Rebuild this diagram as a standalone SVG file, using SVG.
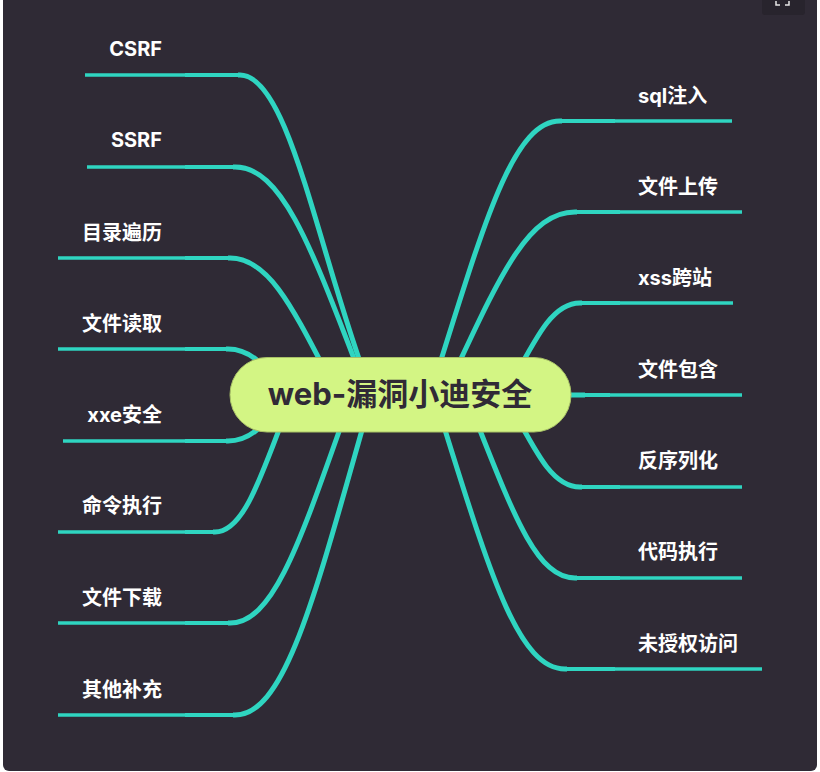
<svg xmlns="http://www.w3.org/2000/svg" width="820" height="772" viewBox="0 0 820 772">
<defs>
<style>
.bg{fill:#2f2a35}
.br{fill:none;stroke:#2fd5c1;stroke-width:5;stroke-linecap:butt}
.md{fill:none;stroke:#2fd5c1;stroke-width:4;stroke-linecap:butt}
.hz{fill:none;stroke:#2fd5c1;stroke-width:3.4;stroke-linecap:butt}
.lbl{font-family:Inter,"Noto Sans CJK SC",sans-serif;font-weight:700;font-size:20px;fill:#ffffff}
.l{text-anchor:end}
.root{fill:#d3f584;stroke:#a8c167;stroke-width:1}
.rt{font-family:Inter,"Noto Sans CJK SC",sans-serif;font-weight:700;font-size:31px;fill:#302a36;text-anchor:middle}
</style>
</defs>
<rect x="0" y="0" width="820" height="772" fill="#ffffff"/>
<rect class="bg" x="3" y="-10" width="814" height="781" rx="6"/>
<g id="expand-icon">
<rect x="762" y="-6" width="43" height="21" rx="3" fill="#28242d"/>
<path d="M776 1 v4 h4 M789 1 v4 h-4" fill="none" stroke="#e6e6e6" stroke-width="1.5"/>
</g>
<g id="connectors">
<path class="br" d="M372 395 C319 258 290 75 240 75 L238 75"/>
<path class="md" d="M239 75 L185 75"/>
<path class="hz" d="M186 75 L85 75"/>
<path class="br" d="M368 395 C315 258 285 167 235 167 L233 167"/>
<path class="md" d="M234 167 L185 167"/>
<path class="hz" d="M186 167 L87 167"/>
<path class="br" d="M338 395 C295 313 271 258 230 258 L228 258"/>
<path class="md" d="M229 258 L185 258"/>
<path class="hz" d="M186 258 L58 258"/>
<path class="br" d="M290 395 C265 367 252 349 228 349 L226 349"/>
<path class="md" d="M227 349 L185 349"/>
<path class="hz" d="M186 349 L58 349"/>
<path class="br" d="M290 395 C265 423 252 441 228 441 L226 441"/>
<path class="md" d="M227 441 L185 441"/>
<path class="hz" d="M186 441 L63 441"/>
<path class="br" d="M292 395 C261 477 244 532 215 532 L213 532"/>
<path class="md" d="M214 532 L185 532"/>
<path class="hz" d="M186 532 L58 532"/>
<path class="br" d="M352 395 C303 532 276 623 230 623 L228 623"/>
<path class="md" d="M229 623 L185 623"/>
<path class="hz" d="M186 623 L58 623"/>
<path class="br" d="M372 395 C317 587 287 715 235 715 L233 715"/>
<path class="md" d="M234 715 L185 715"/>
<path class="hz" d="M186 715 L58 715"/>
<path class="br" d="M430 395 C482 231 511 121 560 121 L562 121"/>
<path class="md" d="M561 121 L615 121"/>
<path class="hz" d="M614 121 L732 121"/>
<path class="br" d="M444 395 C496 285 525 212 575 212 L577 212"/>
<path class="md" d="M576 212 L620 212"/>
<path class="hz" d="M619 212 L742 212"/>
<path class="br" d="M505 395 C535 340 551 303 580 303 L582 303"/>
<path class="md" d="M581 303 L620 303"/>
<path class="hz" d="M619 303 L733 303"/>
<path class="br" d="M520 395 L585 395"/>
<path class="md" d="M584 395 L610 395"/>
<path class="hz" d="M609 395 L742 395"/>
<path class="br" d="M505 395 C535 450 551 487 580 487 L582 487"/>
<path class="md" d="M581 487 L620 487"/>
<path class="hz" d="M619 487 L742 487"/>
<path class="br" d="M466 395 C510 505 534 578 575 578 L577 578"/>
<path class="md" d="M576 578 L620 578"/>
<path class="hz" d="M619 578 L742 578"/>
<path class="br" d="M434 395 C486 559 515 669 565 669 L567 669"/>
<path class="md" d="M566 669 L615 669"/>
<path class="hz" d="M614 669 L762 669"/>
</g>
<g id="root">
<rect class="root" x="230" y="357.5" width="341" height="74.5" rx="37"/>
<text class="rt" x="400" y="404.5">web-漏洞小迪安全</text>
</g>
<g id="n-csrf"><text class="lbl l" x="162" y="56">CSRF</text></g>
<g id="n-ssrf"><text class="lbl l" x="162" y="147">SSRF</text></g>
<g id="n-dir"><text class="lbl l" x="162" y="240">目录遍历</text></g>
<g id="n-fileread"><text class="lbl l" x="162" y="331">文件读取</text></g>
<g id="n-xxe"><text class="lbl l" x="162" y="422">xxe安全</text></g>
<g id="n-cmd"><text class="lbl l" x="162" y="513">命令执行</text></g>
<g id="n-download"><text class="lbl l" x="162" y="605">文件下载</text></g>
<g id="n-other"><text class="lbl l" x="162" y="697">其他补充</text></g>
<g id="n-sql"><text class="lbl" x="638" y="103">sql注入</text></g>
<g id="n-upload"><text class="lbl" x="638" y="194">文件上传</text></g>
<g id="n-xss"><text class="lbl" x="638" y="285">xss跨站</text></g>
<g id="n-include"><text class="lbl" x="638" y="377">文件包含</text></g>
<g id="n-deser"><text class="lbl" x="638" y="468">反序列化</text></g>
<g id="n-code"><text class="lbl" x="638" y="559">代码执行</text></g>
<g id="n-unauth"><text class="lbl" x="638" y="651">未授权访问</text></g>
</svg>
